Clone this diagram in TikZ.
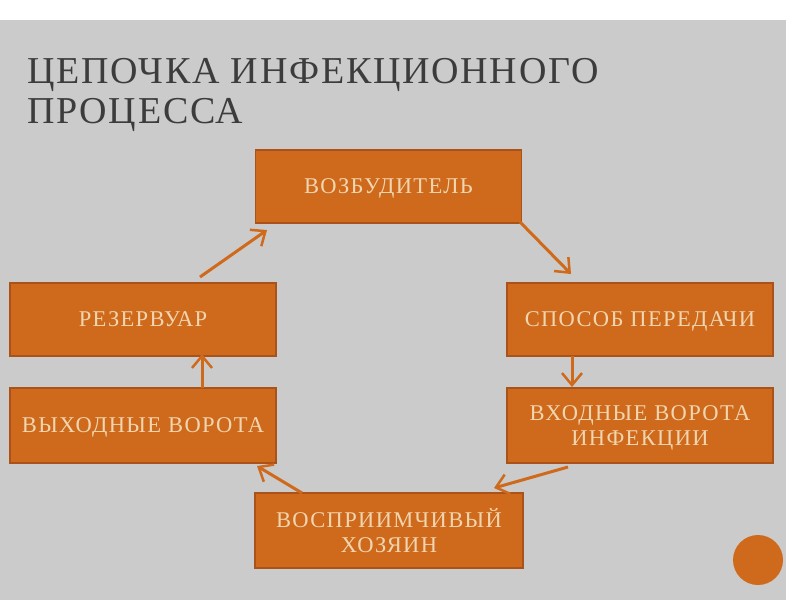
\documentclass[tikz,border=0pt]{standalone}
\usepackage{fontspec}
\setmainfont{Liberation Serif}
\newfontfamily\boxfnt[LetterSpace=6]{Liberation Serif}
\newfontfamily\ttlfnt[LetterSpace=4.6]{Liberation Serif}
\usetikzlibrary{arrows.meta}
\definecolor{bg}{HTML}{CBCBCB}
\definecolor{org}{HTML}{CF6A1C}
\definecolor{orgd}{HTML}{A9531A}
\definecolor{txt}{HTML}{F0D6B0}
\definecolor{ttl}{HTML}{3C3C3C}
\tikzset{
  box/.style={rectangle, fill=org, draw=orgd, line width=1.2pt, minimum width=266pt, minimum height=73pt,
    text=txt, align=center, inner sep=0pt, text depth=0pt, font=\boxfnt\fontsize{22.5}{25}\selectfont},
  conn/.style={draw=org, line width=3pt, -{Straight Barb[length=12pt,width=20pt,line width=2.5pt]}},
  ttlstyle/.style={anchor=base west, inner sep=0pt, text=ttl, font=\ttlfnt\fontsize{38}{40}\selectfont}
}
\begin{document}
\begin{tikzpicture}[x=1pt,y=-1pt]
\useasboundingbox (0,0) rectangle (800,600);
\fill[white] (0,0) rectangle (800,600);
\fill[bg] (0,20) rectangle (786,600);
\node[ttlstyle] (t1) at (27,83) {ЦЕПОЧКА ИНФЕКЦИОННОГО};
\node[ttlstyle] (t2) at (27,123) {ПРОЦЕССА};
\node[box] (voz) at (388.5,186.5) {ВОЗБУДИТЕЛЬ};
\node[box] (res) at (143,319.5) {РЕЗЕРВУАР};
\node[box, minimum height=75pt] (vyh) at (143,425.5) {ВЫХОДНЫЕ ВОРОТА};
\node[box] (spo) at (640,319.5) {СПОСОБ ПЕРЕДАЧИ};
\node[box, minimum height=75pt] (vho) at (640,425.5) {ВХОДНЫЕ ВОРОТА\\ИНФЕКЦИИ};
\node[box, minimum width=268pt, minimum height=75pt] (vos) at (389,530.5) {ВОСПРИИМЧИВЫЙ\\ХОЗЯИН};
\fill[org] (758,560) circle (25);
\coordinate (a1s) at (200,277);
\coordinate (a1e) at (267,230);
\coordinate (a2s) at (520,222);
\coordinate (a2e) at (571,274);
\coordinate (a3s) at (572,356);
\coordinate (a3e) at (572,387);
\coordinate (a4s) at (568,467);
\coordinate (a4e) at (494,488);
\coordinate (a5s) at (302,493);
\coordinate (a5e) at (257,466);
\coordinate (a6s) at (202,388);
\coordinate (a6e) at (202,354);
\draw[conn] (a1s) -- (a1e);
\draw[conn] (a2s) -- (a2e);
\draw[conn] (a3s) -- (a3e);
\draw[conn] (a4s) -- (a4e);
\draw[conn] (a5s) -- (a5e);
\draw[conn] (a6s) -- (a6e);
\end{tikzpicture}
\end{document}
